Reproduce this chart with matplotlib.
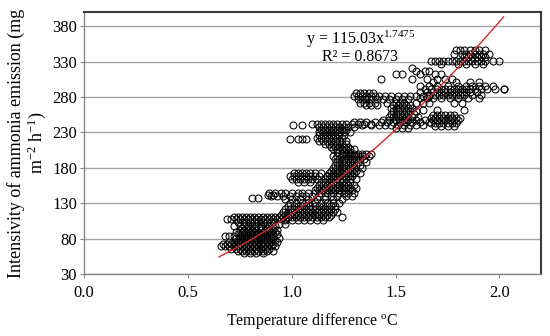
import numpy as np
import matplotlib
matplotlib.use('Agg')
import matplotlib.pyplot as plt

plt.rcParams['font.family'] = ['Liberation Serif', 'DejaVu Serif']
plt.rcParams['mathtext.fontset'] = 'custom'
plt.rcParams['mathtext.rm'] = 'Liberation Serif'
plt.rcParams['mathtext.it'] = 'Liberation Serif:italic'

# данные: (y, [x, ...]) — строки точек
low_cluster = [
    (110, [0.72, 0.74, 0.76, 0.78, 0.80, 0.82, 0.84, 0.86, 0.88, 0.90, 0.92, 0.94]),
    (107, [0.69, 0.71, 0.73, 0.75, 0.77, 0.79, 0.81, 0.83, 0.85, 0.87, 0.89, 0.91, 0.93, 0.95, 0.97]),
    (104, [0.74, 0.77, 0.80, 0.82, 0.84, 0.86, 0.88, 0.91]),
    (98, [0.72, 0.75, 0.77, 0.79, 0.81, 0.83, 0.85, 0.87, 0.89, 0.92]),
    (95, [0.76, 0.79, 0.82, 0.85, 0.88, 0.91]),
    (92, [0.75, 0.77, 0.79, 0.81, 0.83, 0.85, 0.87, 0.89, 0.91, 0.93]),
    (89, [0.73, 0.76, 0.78, 0.80, 0.82, 0.84, 0.86, 0.88, 0.90, 0.92]),
    (86, [0.74, 0.76, 0.78, 0.80, 0.82, 0.84, 0.86, 0.88, 0.90, 0.93]),
    (84, [0.68, 0.70, 0.72, 0.75, 0.77, 0.79, 0.81, 0.83, 0.85, 0.87, 0.89, 0.91]),
    (81, [0.73, 0.75, 0.77, 0.79, 0.81, 0.83, 0.85, 0.87, 0.89, 0.91, 0.94]),
    (78, [0.74, 0.76, 0.78, 0.80, 0.82, 0.84, 0.86, 0.88, 0.90, 0.92]),
    (75, [0.70, 0.72, 0.74, 0.76, 0.78, 0.80, 0.82, 0.84, 0.86, 0.88, 0.90, 0.93]),
    (72, [0.67, 0.69, 0.71, 0.73, 0.75, 0.77, 0.79, 0.81, 0.83, 0.85, 0.87, 0.89, 0.91]),
    (69, [0.66, 0.68, 0.70, 0.72, 0.74, 0.76, 0.78, 0.80, 0.82, 0.84, 0.86, 0.88, 0.90, 0.92]),
    (66, [0.71, 0.73, 0.75, 0.77, 0.79, 0.81, 0.83, 0.85, 0.87, 0.89]),
    (63, [0.74, 0.76, 0.78, 0.80, 0.82, 0.84, 0.86, 0.88, 0.91]),
    (60, [0.77, 0.80, 0.83, 0.86]),
    (138, [0.81, 0.84]),
    (141, [0.885, 0.91]),
]

mid_cluster = [
    (144, [0.89, 0.92, 0.95, 0.97, 1.00, 1.03, 1.05, 1.08, 1.11, 1.14, 1.17, 1.20, 1.23, 1.25, 1.27, 1.30]),
    (140, [0.90, 0.93, 0.96, 0.99, 1.02, 1.05, 1.07, 1.10, 1.13, 1.16, 1.19, 1.22, 1.26, 1.29]),
    (136, [0.97, 1.00, 1.04, 1.08, 1.12, 1.16, 1.20, 1.24]),
    (130, [0.99, 1.02, 1.05, 1.08, 1.11, 1.14, 1.17, 1.20, 1.23]),
    (126, [0.98, 1.01, 1.03, 1.05, 1.07, 1.09, 1.11, 1.13, 1.15, 1.17, 1.19, 1.21]),
    (122, [0.97, 0.99, 1.01, 1.03, 1.05, 1.07, 1.09, 1.11, 1.13, 1.15, 1.17, 1.19, 1.21]),
    (118, [0.96, 0.98, 1.00, 1.02, 1.04, 1.06, 1.08, 1.10, 1.12, 1.14, 1.16, 1.18, 1.20, 1.22]),
    (114, [0.95, 0.97, 0.99, 1.01, 1.03, 1.05, 1.07, 1.09, 1.11, 1.13, 1.15, 1.17, 1.19]),
    (110, [0.96, 0.98, 1.00, 1.02, 1.04, 1.06, 1.08, 1.10, 1.12, 1.14, 1.16, 1.18, 1.24]),
    (106, [0.97, 1.00, 1.03, 1.06, 1.09, 1.12, 1.15]),
    (100, [0.94, 0.97]),
    (172, [1.01, 1.03, 1.05, 1.07, 1.09, 1.11, 1.14]),
    (168, [0.99, 1.01, 1.03, 1.05, 1.07, 1.09, 1.11, 1.13, 1.17, 1.20]),
    (164, [1.00, 1.02, 1.04, 1.06, 1.08, 1.10, 1.12]),
    (160, [1.03, 1.06, 1.09]),
]

rise_cluster = [
    (242, [1.10, 1.12, 1.14, 1.16, 1.18, 1.20, 1.22, 1.24, 1.26, 1.29, 1.32, 1.35, 1.38]),
    (240, [1.005, 1.05]),
    (238, [1.13, 1.15, 1.17, 1.19, 1.21, 1.23, 1.25, 1.27, 1.30]),
    (234, [1.14, 1.16, 1.18, 1.20, 1.22, 1.24, 1.26]),
    (230, [1.13, 1.15, 1.17, 1.19, 1.21, 1.23, 1.25, 1.28]),
    (226, [1.13, 1.15, 1.17, 1.19, 1.21, 1.23, 1.25]),
    (222, [1.12, 1.14, 1.16, 1.18, 1.20, 1.22, 1.24]),
    (220, [0.99, 1.03, 1.05, 1.07]),
    (218, [1.13, 1.15, 1.17, 1.19, 1.21, 1.23, 1.26]),
    (214, [1.16, 1.18, 1.20, 1.22, 1.24, 1.26]),
    (210, [1.19, 1.21, 1.23, 1.25, 1.27]),
    (206, [1.20, 1.22, 1.24, 1.26, 1.28, 1.30]),
    (202, [1.22, 1.25, 1.28]),
    (200, [1.24, 1.26, 1.28, 1.30, 1.32, 1.34, 1.36, 1.38]),
    (196, [1.20, 1.22, 1.24, 1.26, 1.28, 1.30, 1.32, 1.34, 1.37]),
    (192, [1.21, 1.23, 1.25, 1.27, 1.29, 1.31, 1.33, 1.35]),
    (188, [1.22, 1.24, 1.26, 1.28, 1.30, 1.32, 1.36]),
    (184, [1.21, 1.23, 1.25, 1.27, 1.29, 1.31, 1.33]),
    (180, [1.20, 1.22, 1.24, 1.26, 1.28, 1.30, 1.34]),
    (176, [1.19, 1.21, 1.23, 1.25, 1.27, 1.29, 1.31]),
    (172, [1.18, 1.20, 1.22, 1.24, 1.26, 1.28, 1.30, 1.33]),
    (168, [1.17, 1.19, 1.21, 1.23, 1.25, 1.27, 1.29]),
    (164, [1.16, 1.18, 1.20, 1.22, 1.24, 1.26, 1.28, 1.31]),
    (160, [1.14, 1.16, 1.18, 1.20, 1.22, 1.24, 1.26, 1.28]),
    (156, [1.13, 1.15, 1.17, 1.19, 1.21, 1.23, 1.25, 1.27, 1.30]),
    (152, [1.12, 1.14, 1.16, 1.18, 1.20, 1.22, 1.24, 1.26, 1.28, 1.31]),
    (148, [1.11, 1.13, 1.15, 1.17, 1.19, 1.21, 1.23, 1.25, 1.27, 1.29]),
]

upper_cluster = [
    (285, [1.31, 1.33, 1.35, 1.37, 1.39]),
    (281, [1.30, 1.32, 1.34, 1.36, 1.38, 1.40, 1.42, 1.45, 1.48, 1.51, 1.54, 1.57, 1.60, 1.63, 1.66]),
    (277, [1.32, 1.34, 1.36, 1.38, 1.41, 1.44, 1.47, 1.50, 1.53, 1.56]),
    (272, [1.33, 1.35, 1.37, 1.40, 1.46, 1.50, 1.52, 1.54]),
    (268, [1.36, 1.38, 1.41, 1.49, 1.51, 1.53, 1.55, 1.57]),
    (264, [1.48, 1.50, 1.52, 1.54, 1.56, 1.58]),
    (260, [1.49, 1.51, 1.53, 1.55, 1.57, 1.60]),
    (256, [1.48, 1.50, 1.52, 1.54, 1.56, 1.59]),
    (252, [1.47, 1.49, 1.51, 1.53, 1.55, 1.58, 1.61]),
    (248, [1.44, 1.47, 1.50, 1.52, 1.54, 1.56, 1.60, 1.64]),
    (244, [1.30, 1.33, 1.36, 1.40, 1.43, 1.46, 1.49, 1.52, 1.55, 1.58, 1.62, 1.66]),
    (240, [1.34, 1.38, 1.42, 1.45, 1.48, 1.51, 1.54, 1.57, 1.60, 1.63]),
    (236, [1.50, 1.53, 1.56]),
    (296, [1.62, 1.66, 1.70, 1.75, 1.80, 1.84, 1.87, 1.90, 1.93, 1.97]),
    (291, [1.64, 1.67, 1.70, 1.72, 1.74, 1.76, 1.78, 1.80, 1.82, 1.84, 1.86, 1.88, 1.91, 1.94, 1.98, 2.02, 2.02]),
    (287, [1.62, 1.65, 1.68, 1.70, 1.72, 1.74, 1.76, 1.78, 1.80, 1.82, 1.84, 1.86, 1.89]),
    (283, [1.66, 1.69, 1.71, 1.73, 1.75, 1.77, 1.79, 1.81, 1.83, 1.87, 1.91]),
    (278, [1.62, 1.65, 1.68, 1.72, 1.76, 1.80, 1.85, 1.90]),
    (272, [1.60, 1.63, 1.66, 1.78, 1.82]),
    (262, [1.63, 1.70, 1.83]),
    (255, [1.68, 1.70, 1.72, 1.74, 1.76, 1.78]),
    (251, [1.67, 1.69, 1.71, 1.73, 1.75, 1.77, 1.79, 1.81]),
    (247, [1.68, 1.70, 1.72, 1.74, 1.76, 1.78, 1.80]),
    (243, [1.67, 1.69, 1.71, 1.73, 1.75, 1.77, 1.79]),
    (239, [1.69, 1.72, 1.75, 1.78]),
]

top_cluster = [
    (321, [1.58]),
    (316, [1.60, 1.64, 1.66]),
    (312, [1.50, 1.53, 1.62, 1.69, 1.72]),
    (306, [1.43, 1.58, 1.65, 1.70, 1.74, 1.77]),
    (301, [1.68, 1.79, 1.86, 1.90]),
    (346, [1.79, 1.81, 1.83, 1.86, 1.88, 1.90, 1.93]),
    (341, [1.78, 1.82, 1.84, 1.86, 1.88, 1.90, 1.92, 1.95]),
    (336, [1.83, 1.85, 1.87, 1.89, 1.91, 1.93]),
    (331, [1.67, 1.69, 1.71, 1.73, 1.75, 1.77, 1.79, 1.81, 1.83, 1.85, 1.87, 1.89, 1.91, 1.93, 1.97, 2.00]),
    (327, [1.72, 1.80, 1.84, 1.88, 1.92]),
]

# линия тренда из подписи на графике
fit_a = 115.03
fit_b = 1.7475
fit_r2 = 0.8673
fit_x_range = (0.65, 2.02)

y_ticks = [30, 80, 130, 180, 230, 280, 330, 380]
x_ticks = [0.0, 0.5, 1.0, 1.5, 2.0]

xs, ys = [], []
for cluster in [low_cluster, mid_cluster, rise_cluster, upper_cluster, top_cluster]:
    for yv, row in cluster:
        xs.extend(row)
        ys.extend([yv] * len(row))

fig = plt.figure(figsize=(5.5, 3.36), dpi=100)
ax = fig.add_axes([0.1527, 0.1845, 0.8309, 0.7798])

ax.plot(xs, ys, 'o', ms=5, mfc='none', mec='black', mew=0.75, zorder=2)

fx = np.linspace(fit_x_range[0], fit_x_range[1], 200)
ax.plot(fx, fit_a * fx ** fit_b, color='#d42a2f', lw=1, zorder=3)

ax.text(1.33, 361, 'y = 115.03x$^{1.7475}$', ha='center', va='center', fontsize=11.5)
ax.text(1.33, 336, 'R² = 0.8673', ha='center', va='center', fontsize=11.5)

ax.set_xlim(0, 2.2)
ax.set_ylim(30, 400)
ax.set_xticks(x_ticks)
ax.set_xticklabels(['%.1f' % v for v in x_ticks])
ax.set_yticks(y_ticks)
ax.yaxis.grid(True, color='#a6a6a6', lw=1)
ax.set_axisbelow(True)

for s in ['left', 'bottom']:
    ax.spines[s].set_color('#868686')
    ax.spines[s].set_linewidth(1)
for s in ['top', 'right']:
    ax.spines[s].set_color('#3a3a3a')
    ax.spines[s].set_linewidth(1.5)

ax.tick_params(axis='both', colors='#868686', labelcolor='black', labelsize=12, length=3)
ax.tick_params(axis='y', pad=2)
ax.tick_params(axis='x', pad=5)

ax.set_xlabel('Temperature difference $^{\\mathrm{o}}$C', fontsize=11.5, labelpad=7)
ax.set_ylabel('Intensivity of ammonia emission (mg\nm$^{-2}$ h$^{-1}$)', fontsize=13, labelpad=3,
              linespacing=1.0)

fig.savefig('out.png', dpi=100)
